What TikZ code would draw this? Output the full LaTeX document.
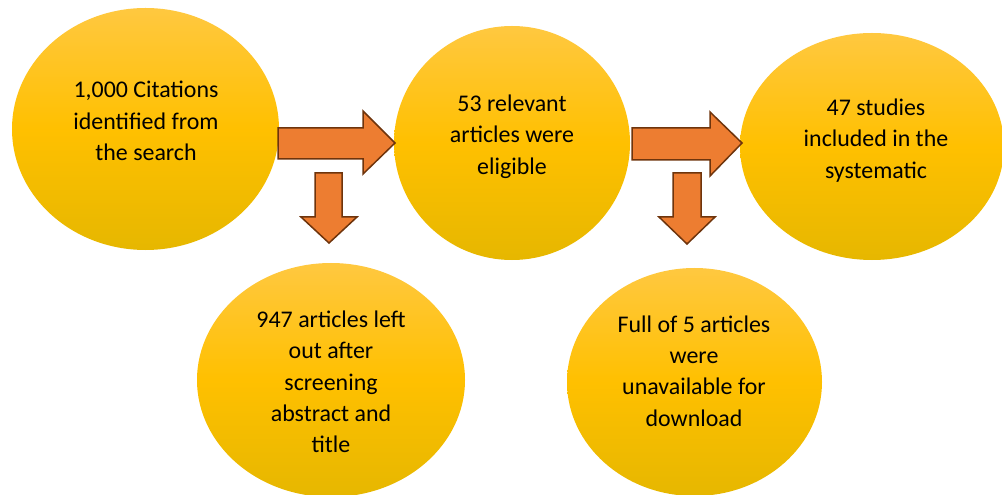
\documentclass[tikz,border=0pt]{standalone}
\usepackage{fontspec}
\setmainfont{Carlito}
\usetikzlibrary{shapes.geometric}
\definecolor{ytop}{RGB}{255,200,64}
\definecolor{ymid}{RGB}{255,192,0}
\definecolor{ybot}{RGB}{230,183,0}
\definecolor{arrfill}{RGB}{237,125,49}
\definecolor{arrline}{RGB}{110,52,12}
\tikzset{
  bubble/.style={ellipse, inner sep=0pt, top color=ytop, bottom color=ybot, middle color=ymid, draw=none},
  btext/.style={align=center, font=\fontsize{24}{31.5}\selectfont, text=black, inner sep=0pt},
  blockarrow/.style={fill=arrfill, draw=arrline, line width=1.5bp, line join=miter}
}
\begin{document}
\begin{tikzpicture}[x=1bp,y=-1bp]
\useasboundingbox (0,0) rectangle (1002,495);
\node[bubble, minimum width=267bp, minimum height=242bp] (e1) at (145.5,129) {};
\node[bubble, minimum width=236bp, minimum height=234bp] (e2) at (512,143) {};
\node[bubble, minimum width=264bp, minimum height=227bp] (e3) at (872,146.5) {};
\node[bubble, minimum width=268bp, minimum height=234bp] (e4) at (331,380) {};
\node[bubble, minimum width=255bp, minimum height=228bp] (e5) at (694.5,382) {};
\node[btext] (t1) at (146,121) {1,000 Citations\\identified from\\the search};
\node[btext] (t2) at (512,136.5) {53 relevant\\articles were\\eligible};
\node[btext] (t3) at (876,140.5) {47 studies\\included in the\\systematic};
\node[btext] (t4) at (331,382) {947 articles left\\out after\\screening\\abstract and\\title};
\node[btext] (t5) at (694,371) {Full of 5 articles\\were\\unavailable for\\download};
% right arrows
\draw[blockarrow] (278,128) -- (363,128) -- (363,111) -- (395,143) -- (363,174) -- (363,159) -- (278,159) -- cycle;
\draw[blockarrow] (632,128) -- (710,128) -- (710,112) -- (742,143) -- (710,176) -- (710,160) -- (632,160) -- cycle;
% down arrows
\draw[blockarrow] (315,173) -- (342,173) -- (342,217) -- (357,217) -- (329,243) -- (301,217) -- (315,217) -- cycle;
\draw[blockarrow] (673,173) -- (701,173) -- (701,217) -- (715,217) -- (687,244) -- (659,217) -- (673,217) -- cycle;
\end{tikzpicture}
\end{document}
